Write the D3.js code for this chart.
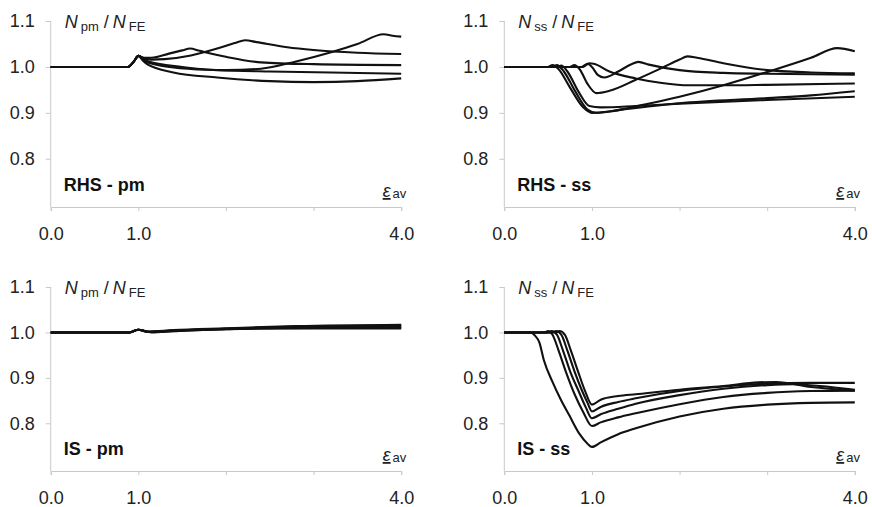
<!DOCTYPE html>
<html>
<head>
<meta charset="utf-8">
<script src="https://cdn.jsdelivr.net/npm/d3@7"></script>
<style>
  html, body { margin: 0; padding: 0; background: #fff; }
  svg { display: block; font-family: "Liberation Sans", Arial, sans-serif; }
</style>
</head>
<body>
<svg id="chart" width="872" height="507"></svg>
<script>
// Normalised strength ratio vs. average strain, four cases (RHS / IS, pm / ss)

const xTicks = [0, 1, 2, 3, 4];
const xTickLabels = ["0.0", "1.0", "", "", "4.0"];
const yTicks = [0.8, 0.9, 1.0, 1.1];
const yTickLabels = ["0.8", "0.9", "1.0", "1.1"];

const panelNames = ["RHS - pm", "RHS - ss", "IS - pm", "IS - ss"];
const ratioSubs = ["pm", "ss", "pm", "ss"];

// RHS - pm : [strain, ratio]
const rhsPm = [
  [[0,1],[0.88,1],[0.95,1.012],[1.0,1.024],[1.05,1.02],[1.1,1.013],[1.5,1.0],[2.0,0.993],[2.4,0.996],[2.8,1.012],[3.2,1.032],[3.5,1.05],[3.8,1.071],[3.9,1.068],[4.0,1.066]],
  [[0,1],[0.88,1],[0.95,1.012],[1.0,1.024],[1.05,1.02],[1.15,1.016],[1.3,1.017],[1.6,1.025],[1.9,1.04],[2.1,1.052],[2.22,1.058],[2.35,1.054],[2.7,1.043],[3.0,1.037],[3.5,1.031],[4.0,1.028]],
  [[0,1],[0.88,1],[0.95,1.012],[1.0,1.024],[1.05,1.02],[1.15,1.02],[1.35,1.029],[1.5,1.036],[1.59,1.04],[1.7,1.035],[2.0,1.022],[2.4,1.01],[3.0,1.006],[4.0,1.004]],
  [[0,1],[0.88,1],[0.95,1.012],[1.0,1.024],[1.05,1.017],[1.1,1.01],[1.4,0.999],[1.9,0.993],[2.5,0.99],[3.2,0.988],[4.0,0.985]],
  [[0,1],[0.88,1],[0.95,1.012],[1.0,1.024],[1.05,1.014],[1.1,1.006],[1.4,0.988],[1.9,0.977],[2.5,0.969],[3.0,0.967],[3.5,0.969],[4.0,0.975]]
];

// RHS - ss
const rhsSs = [
  [[0,1],[0.5,1],[0.55,1.004],[0.62,0.995],[0.75,0.955],[0.9,0.912],[1.0,0.9],[1.2,0.903],[1.6,0.918],[2.0,0.935],[2.5,0.96],[3.0,0.989],[3.5,1.02],[3.8,1.041],[4.0,1.034]],
  [[0,1],[0.55,1],[0.6,1.004],[0.68,0.99],[0.8,0.95],[0.95,0.907],[1.05,0.9],[1.3,0.906],[2.0,0.921],[3.0,0.932],[3.5,0.938],[4.0,0.947]],
  [[0,1],[0.6,1],[0.65,1.003],[0.72,0.99],[0.85,0.945],[0.97,0.915],[1.1,0.912],[1.5,0.915],[2.0,0.92],[3.0,0.928],[4.0,0.935]],
  [[0,1],[0.75,1],[0.8,1.004],[0.86,0.995],[0.95,0.963],[1.05,0.943],[1.2,0.948],[1.5,0.972],[1.8,0.998],[2.0,1.016],[2.09,1.023],[2.2,1.02],[2.5,1.008],[3.0,0.993],[3.5,0.988],[4.0,0.986]],
  [[0,1],[0.88,1],[0.95,1.007],[1.0,1.0],[1.07,0.982],[1.14,0.977],[1.3,0.99],[1.45,1.006],[1.53,1.011],[1.65,1.005],[2.0,0.993],[2.5,0.987],[3.0,0.985],[4.0,0.983]],
  [[0,1],[0.9,1],[0.97,1.008],[1.02,1.007],[1.2,0.99],[1.5,0.975],[1.8,0.965],[2.1,0.96],[2.5,0.96],[3.0,0.961],[4.0,0.964]]
];

// IS - pm
const isPm = [
  [[0,1],[0.9,1],[1.0,1.006],[1.1,1.001],[1.3,1.002],[2.0,1.007],[3.0,1.009],[4.0,1.009]],
  [[0,1],[0.9,1],[1.0,1.006],[1.15,1.0],[1.4,1.003],[2.0,1.007],[3.0,1.011],[4.0,1.011]],
  [[0,1],[0.9,1],[1.0,1.006],[1.12,1.001],[1.4,1.004],[2.0,1.008],[3.0,1.012],[4.0,1.013]],
  [[0,1],[0.9,1],[1.0,1.006],[1.1,1.002],[1.4,1.004],[2.0,1.008],[2.8,1.013],[4.0,1.015]],
  [[0,1],[0.9,1],[1.0,1.006],[1.1,1.002],[1.4,1.005],[2.0,1.009],[2.8,1.014],[4.0,1.017]]
];

// IS - ss
const isSs = [
  [[0,1],[0.3,1],[0.35,0.993],[0.4,0.978],[0.45,0.94],[0.55,0.891],[0.65,0.85],[0.74,0.818],[0.86,0.776],[0.95,0.755],[1.0,0.748],[1.1,0.758],[1.3,0.776],[1.5,0.789],[2.0,0.815],[2.5,0.832],[3.0,0.841],[3.5,0.845],[4.0,0.846]],
  [[0,1],[0.46,1],[0.5,1.003],[0.55,0.995],[0.62,0.96],[0.7,0.915],[0.8,0.865],[0.9,0.825],[1.0,0.794],[1.1,0.802],[1.3,0.813],[1.5,0.822],[2.0,0.842],[2.5,0.858],[3.0,0.867],[3.5,0.871],[4.0,0.872]],
  [[0,1],[0.5,1],[0.54,1.003],[0.6,0.995],[0.67,0.96],[0.75,0.915],[0.85,0.87],[0.93,0.835],[1.0,0.811],[1.1,0.82],[1.3,0.832],[1.5,0.843],[2.0,0.862],[2.5,0.876],[3.0,0.884],[3.3,0.886],[3.6,0.882],[4.0,0.874]],
  [[0,1],[0.55,1],[0.59,1.003],[0.65,0.995],[0.72,0.96],[0.8,0.915],[0.88,0.875],[0.95,0.845],[1.0,0.826],[1.1,0.836],[1.3,0.847],[1.5,0.855],[2.0,0.871],[2.5,0.881],[3.0,0.887],[3.5,0.889],[4.0,0.889]],
  [[0,1],[0.59,1],[0.63,1.003],[0.69,0.995],[0.76,0.96],[0.84,0.915],[0.92,0.872],[1.0,0.841],[1.1,0.852],[1.3,0.86],[1.5,0.864],[2.0,0.874],[2.5,0.882],[2.9,0.89],[3.1,0.891],[3.5,0.88],[4.0,0.872]]
];

const panelData = [rhsPm, rhsSs, isPm, isSs];

// panel frames
const colX = [50.7, 504.3];
const plotW = 350.5;
const rowY = [[21, 207], [287, 471]];   // [y of 1.1, y of axis]
const yDomain = [0.695, 1.1];

const svg = d3.select("#chart");
const axisColor = "#c9c9c9";
const textColor = "#222";

panelData.forEach((series, i) => {
  const col = i % 2, row = Math.floor(i / 2);
  const x0 = colX[col];
  const [yTop, yBot] = rowY[row];

  const x = d3.scaleLinear().domain([0, 4]).range([x0, x0 + plotW]);
  const y = d3.scaleLinear().domain(yDomain).range([yBot, yTop]);

  const g = svg.append("g");

  // y axis
  const ya = g.append("g")
    .attr("transform", `translate(${x0},0)`)
    .call(d3.axisLeft(y).tickValues(yTicks)
      .tickFormat((d, k) => yTickLabels[k]).tickSize(5).tickPadding(11));
  ya.select(".domain").remove();
  ya.append("line").attr("x1", 0).attr("x2", 0)
    .attr("y1", y(1.1)).attr("y2", yBot).attr("stroke", axisColor);
  ya.selectAll(".tick line").attr("stroke", axisColor);
  ya.selectAll("text").attr("font-size", 18).attr("fill", textColor)
    .attr("font-family", "Liberation Sans, Arial, sans-serif");

  // x axis
  const xa = g.append("g")
    .attr("transform", `translate(0,${yBot})`)
    .call(d3.axisBottom(x).tickValues(xTicks)
      .tickFormat((d, k) => xTickLabels[k]).tickSize(4).tickPadding(16));
  xa.select(".domain").attr("stroke", axisColor);
  xa.selectAll(".tick line").attr("stroke", axisColor);
  xa.selectAll("text").attr("font-size", 18).attr("fill", textColor)
    .attr("font-family", "Liberation Sans, Arial, sans-serif");

  // curves
  const line = d3.line().x(d => x(d[0])).y(d => y(d[1])).curve(d3.curveMonotoneX);
  g.append("g").selectAll("path").data(series).join("path")
    .attr("d", line)
    .attr("fill", "none")
    .attr("stroke", "#111")
    .attr("stroke-width", 2.1)
    .attr("stroke-linejoin", "round");

  // ratio label  N_xx / N_FE
  const t = g.append("text")
    .attr("x", x0 + 14).attr("y", yTop + 7)
    .attr("fill", textColor).attr("font-size", 18);
  t.append("tspan").attr("font-style", "italic").text("N");
  t.append("tspan").attr("font-size", 13).attr("dx", 3).attr("dy", 3).text(ratioSubs[i]);
  t.append("tspan").attr("dy", -3).attr("dx", 5).text("/");
  t.append("tspan").attr("font-style", "italic").attr("dx", 4).text("N");
  t.append("tspan").attr("font-size", 13).attr("dx", 3).attr("dy", 3).text("FE");

  // case label
  g.append("text")
    .attr("x", x0 + 13).attr("y", yBot - 16)
    .attr("font-size", 18).attr("font-weight", "bold").attr("fill", "#111")
    .text(panelNames[i]);

  // strain label
  const e = g.append("text")
    .attr("x", x0 + 332).attr("y", yBot - 10)
    .attr("fill", textColor).attr("font-size", 18);
  e.append("tspan").attr("font-style", "italic")
    .attr("text-decoration", "underline").text("ε");
  e.append("tspan").attr("font-size", 13).attr("dx", 2).attr("dy", 1).text("av");
});
</script>
</body>
</html>
